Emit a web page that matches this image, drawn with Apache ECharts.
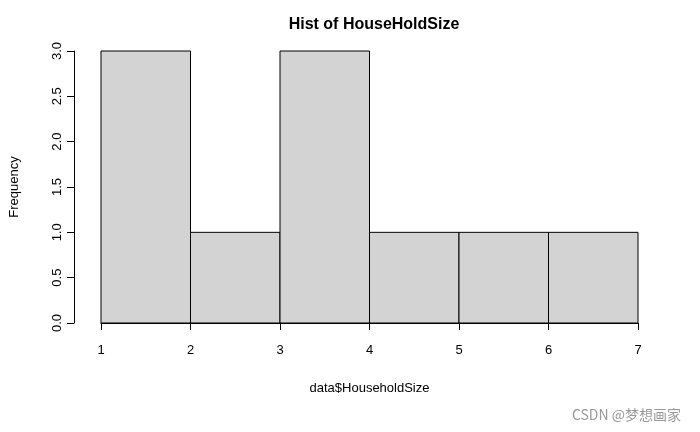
<!DOCTYPE html>
<html><head><meta charset="utf-8">
<script src="https://cdn.jsdelivr.net/npm/echarts@6/dist/echarts.min.js"></script>
<style>html,body{margin:0;background:#fff}#c{width:700px;height:432px}</style>
</head><body><div id="c"></div>
<script>
const binStarts = [1, 2, 3, 4, 5, 6];
const binEnds = [2, 3, 4, 5, 6, 7];
const counts = [3, 1, 3, 1, 1, 1];
const xTicks = [1, 2, 3, 4, 5, 6, 7];
const yTicks = [0, 0.5, 1, 1.5, 2, 2.5, 3];

const data = binStarts.map((s, i) => [s, binEnds[i], counts[i]]);
const font = 'Liberation Sans, Arial, sans-serif';
const chart = echarts.init(document.getElementById('c'));
chart.setOption({
  animation: false,
  title: [{text: 'Hist of HouseHoldSize', left: 369, top: 12, textAlign: 'center',
    textStyle: {fontFamily: font, fontWeight: 'bold', fontSize: 16, color: '#000'}},
    {text: 'CSDN @梦想画家', right: 14, top: 403,
    textStyle: {fontFamily: 'Noto Sans CJK SC', fontWeight: 'normal', fontSize: 14, color: '#999'}}],
  grid: {left: 100, right: 62, top: 51, bottom: 109},
  xAxis: {type: 'value', min: 1, max: 7, interval: 1, offset: 13,
    name: 'data$HouseholdSize', nameLocation: 'middle', nameGap: 46,
    nameTextStyle: {fontFamily: font, fontSize: 13, color: '#000'},
    axisLine: {lineStyle: {color: '#000'}}, axisTick: {length: 7, lineStyle: {color: '#000'}},
    axisLabel: {fontFamily: font, fontSize: 13, color: '#000', margin: 8,
      formatter: v => xTicks.includes(v) ? String(v) : ''},
    splitLine: {show: false}},
  yAxis: {type: 'value', min: 0, max: 3, interval: 0.5, offset: 27,
    name: 'Frequency', nameLocation: 'middle', nameGap: 53,
    nameTextStyle: {fontFamily: font, fontSize: 13, color: '#000'},
    axisLine: {show: true, lineStyle: {color: '#000'}}, axisTick: {show: true, length: 7, lineStyle: {color: '#000'}},
    axisLabel: {fontFamily: font, fontSize: 13, color: '#000', rotate: 90, margin: 10,
      formatter: v => yTicks.includes(v) ? v.toFixed(1) : ''},
    splitLine: {show: false}},
  series: [{type: 'custom', data: data,
    renderItem: (params, api) => {
      const p0 = api.coord([api.value(0), 0]);
      const p1 = api.coord([api.value(1), api.value(2)]);
      return {type: 'rect', shape: {x: p0[0], y: p1[1], width: p1[0] - p0[0], height: p0[1] - p1[1]},
        style: {fill: '#d3d3d3', stroke: '#000', lineWidth: 1}};
    }}]
});
</script></body></html>
